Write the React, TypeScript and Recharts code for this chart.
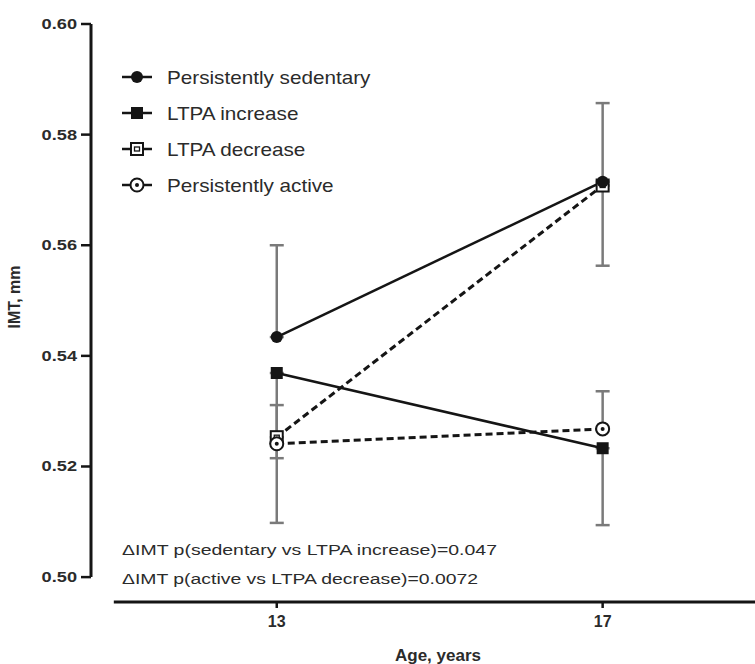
import React from 'react';
import { LineChart, Line, XAxis, YAxis, ErrorBar, ReferenceLine, Legend } from 'recharts';

const ages = [13, 17];
const sedentary = [0.5434, 0.5715];
const sedentaryErr = [0.0166, 0.0142]; // drawn above
const ltpaIncrease = [0.5369, 0.5233];
const ltpaIncreaseErr = [0.0154, 0.0139]; // drawn below
const ltpaDecrease = [0.5253, 0.5708];
const ltpaDecreaseErr = [0.0155, 0.0145]; // drawn below
const active = [0.5241, 0.5268];
const activeErr = [0.007, 0.0068]; // drawn above

const yTicks = [0.5, 0.52, 0.54, 0.56, 0.58, 0.6];
const xTicks = [13, 17];
const legendNames = ['Persistently sedentary', 'LTPA increase', 'LTPA decrease', 'Persistently active'];
const notes = [
  '\u0394IMT p(sedentary vs LTPA increase)=0.047',
  '\u0394IMT p(active vs LTPA decrease)=0.0072',
];

const data = ages.map((age, i) => ({
  age,
  sed: sedentary[i],
  sedErr: [0, sedentaryErr[i]],
  inc: ltpaIncrease[i],
  incErr: [ltpaIncreaseErr[i], 0],
  dec: ltpaDecrease[i],
  decErr: [ltpaDecreaseErr[i], 0],
  act: active[i],
  actErr: [0, activeErr[i]],
}));

const FONT = '"Liberation Sans", Arial, sans-serif';
const INK = '#151515';
const TEXT = '#2b2b2b';
const BAR = '#7a7a7a';

type Kind = 'circle' | 'square' | 'openSquare' | 'openCircle';

const Marker = ({ kind, cx, cy }: { kind: Kind; cx: number; cy: number }) => {
  if (kind === 'circle') return <circle cx={cx} cy={cy} r={6} fill={INK} />;
  if (kind === 'square') return <rect x={cx - 6} y={cy - 6} width={12} height={12} fill={INK} />;
  if (kind === 'openSquare')
    return (
      <g>
        <rect x={cx - 6} y={cy - 6} width={12} height={12} fill="#fff" stroke={INK} strokeWidth={2} />
        <rect x={cx - 2.5} y={cy - 2} width={5} height={4} fill="none" stroke={INK} strokeWidth={1.3} />
      </g>
    );
  return (
    <g>
      <circle cx={cx} cy={cy} r={6.5} fill="#fff" stroke={INK} strokeWidth={2} />
      <circle cx={cx} cy={cy} r={2} fill={INK} />
    </g>
  );
};

const legendKinds: Kind[] = ['circle', 'square', 'openSquare', 'openCircle'];

const dotFor = (kind: Kind) => (props: any) =>
  <Marker key={`${kind}-${props.index}`} kind={kind} cx={props.cx} cy={props.cy} />;

const renderLegend = () => (
  <svg width={320} height={145}>
    {legendNames.map((name, i) => {
      const cy = 15 + i * 36;
      return (
        <g key={name}>
          <line x1={4} x2={34} y1={cy} y2={cy} stroke={INK} strokeWidth={2.5} />
          <Marker kind={legendKinds[i]} cx={19} cy={cy} />
          <text
            transform={`translate(49 ${cy + 6.5}) scale(1.15 1)`}
            fontSize={18}
            fontFamily={FONT}
            fill={TEXT}
          >
            {name}
          </text>
        </g>
      );
    })}
  </svg>
);

const YTick = ({ x, y, payload }: any) => (
  <text
    transform={`translate(${x - 2} ${y + 5}) scale(1.3 1)`}
    textAnchor="end"
    fontSize={14}
    fontWeight="bold"
    fontFamily={FONT}
    fill={TEXT}
  >
    {payload.value.toFixed(2)}
  </text>
);

const XTick = ({ x, y, payload }: any) => (
  <text x={x} y={y + 17} textAnchor="middle" fontSize={16} fontWeight="bold" fontFamily={FONT} fill={TEXT}>
    {payload.value}
  </text>
);

export default function App() {
  return (
    <div style={{ position: 'absolute', left: 0, top: 0, width: 755, height: 664, background: '#fff' }}>
      <LineChart width={755} height={664} data={data} margin={{ top: 24, right: 0, bottom: 0, left: 0 }}>
        <XAxis
          type="number"
          dataKey="age"
          domain={[10.72, 18.87]}
          ticks={xTicks}
          axisLine={false}
          tickLine={{ stroke: INK, strokeWidth: 2.5 }}
          tickSize={6}
          tick={<XTick />}
          height={62}
          allowDataOverflow
          label={{
            value: 'Age, years',
            position: 'insideBottom',
            offset: 3,
            dx: 15,
            style: { fontSize: 17, fontWeight: 'bold', fontFamily: FONT, fill: TEXT },
          }}
        />
        <YAxis
          type="number"
          domain={[0.4955, 0.6]}
          ticks={yTicks}
          axisLine={false}
          tickLine={{ stroke: INK, strokeWidth: 2.5 }}
          tickSize={10}
          tick={<YTick />}
          width={91}
          allowDataOverflow
          label={{
            value: 'IMT, mm',
            angle: -90,
            position: 'insideLeft',
            offset: 14,
            dy: -16,
            style: { fontSize: 16, fontWeight: 'bold', fontFamily: FONT, fill: TEXT, textAnchor: 'middle' },
          }}
        />
        <ReferenceLine
          segment={[{ x: 10.72, y: 0.5 }, { x: 10.72, y: 0.6 }]}
          stroke={INK}
          strokeWidth={3}
          ifOverflow="visible"
        />
        <ReferenceLine
          segment={[{ x: 11, y: 0.4955 }, { x: 18.87, y: 0.4955 }]}
          stroke={INK}
          strokeWidth={3}
          ifOverflow="visible"
        />
        {/* vertical + center + middle keeps the legend from taking plot space */}
        <Legend
          layout="vertical"
          align="center"
          verticalAlign="middle"
          content={renderLegend}
          wrapperStyle={{ position: 'absolute', left: 118, top: 62, width: 320, height: 145 }}
        />
        <Line
          dataKey="dec"
          stroke={INK}
          strokeWidth={3}
          strokeDasharray="7 4"
          dot={dotFor('openSquare')}
          isAnimationActive={false}
        >
          <ErrorBar dataKey="decErr" direction="y" width={7} stroke={BAR} strokeWidth={2.5} />
        </Line>
        <Line
          dataKey="act"
          stroke={INK}
          strokeWidth={3}
          strokeDasharray="7 4"
          dot={dotFor('openCircle')}
          isAnimationActive={false}
        >
          <ErrorBar dataKey="actErr" direction="y" width={7} stroke={BAR} strokeWidth={2.5} />
        </Line>
        <Line dataKey="inc" stroke={INK} strokeWidth={2.5} dot={dotFor('square')} isAnimationActive={false}>
          <ErrorBar dataKey="incErr" direction="y" width={7} stroke={BAR} strokeWidth={2.5} />
        </Line>
        <Line dataKey="sed" stroke={INK} strokeWidth={2.5} dot={dotFor('circle')} isAnimationActive={false}>
          <ErrorBar dataKey="sedErr" direction="y" width={7} stroke={BAR} strokeWidth={2.5} />
        </Line>
      </LineChart>
      <svg width={755} height={664} style={{ position: 'absolute', left: 0, top: 0, pointerEvents: 'none' }}>
        {notes.map((note, i) => (
          <text
            key={note}
            x={122}
            y={555 + i * 29}
            fontSize={14}
            fontFamily={FONT}
            fill={TEXT}
            textLength={i === 0 ? 375 : 356}
            lengthAdjust="spacingAndGlyphs"
          >
            {note}
          </text>
        ))}
      </svg>
    </div>
  );
}
